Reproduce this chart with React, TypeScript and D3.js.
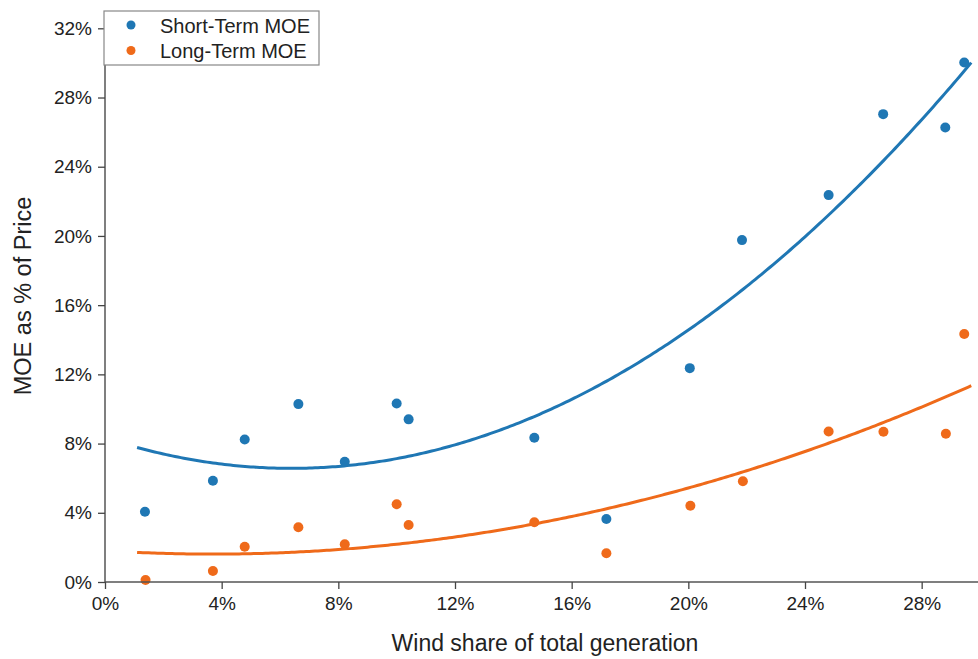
import React, { useEffect, useRef } from 'react';
import * as d3 from 'd3';

// wind share (%) for each market / year
const windShort = [1.37, 3.7, 4.79, 6.63, 8.22, 10.0, 10.41, 14.72, 17.19, 20.05, 21.84, 24.81, 26.68, 28.81, 29.46];
const moeShort = [4.06, 5.85, 8.24, 10.28, 6.95, 10.32, 9.4, 8.34, 3.64, 12.36, 19.76, 22.36, 27.04, 26.27, 30.02];

const windLong = [1.39, 3.7, 4.79, 6.63, 8.22, 10.0, 10.41, 14.72, 17.19, 20.07, 21.87, 24.81, 26.69, 28.83, 29.46];
const moeLong = [0.12, 0.64, 2.04, 3.16, 2.18, 4.49, 3.29, 3.45, 1.66, 4.41, 5.82, 8.7, 8.68, 8.57, 14.33];

const xTicks = [0, 4, 8, 12, 16, 20, 24, 28];
const yTicks = [0, 4, 8, 12, 16, 20, 24, 28, 32];
const seriesNames = ['Short-Term MOE', 'Long-Term MOE'];
const fitRange = [1.1, 29.7];

const BLUE = '#1f77b4';
const ORANGE = '#ef6a1a';

// least squares quadratic y = a + b x + c x^2
function quadFit(xs: number[], ys: number[]) {
  let s0 = 0, s1 = 0, s2 = 0, s3 = 0, s4 = 0, t0 = 0, t1 = 0, t2 = 0;
  xs.forEach((x, i) => {
    const y = ys[i];
    s0 += 1; s1 += x; s2 += x * x; s3 += x * x * x; s4 += x * x * x * x;
    t0 += y; t1 += x * y; t2 += x * x * y;
  });
  const m = [[s0, s1, s2, t0], [s1, s2, s3, t1], [s2, s3, s4, t2]];
  for (let i = 0; i < 3; i++) {
    for (let k = i + 1; k < 3; k++) {
      const f = m[k][i] / m[i][i];
      for (let j = i; j < 4; j++) m[k][j] -= f * m[i][j];
    }
  }
  const c = m[2][3] / m[2][2];
  const b = (m[1][3] - m[1][2] * c) / m[1][1];
  const a = (m[0][3] - m[0][1] * b - m[0][2] * c) / m[0][0];
  return (x: number) => a + b * x + c * x * x;
}

export default function App() {
  const svgRef = useRef<SVGSVGElement>(null);

  useEffect(() => {
    const svg = d3.select(svgRef.current);
    svg.selectAll('*').remove();

    const font = 'Arial, "Liberation Sans", sans-serif';
    const x = d3.scaleLinear().domain([0, 30]).range([105, 980]);
    const y = d3.scaleLinear().domain([0, 33]).range([582, 11]);

    // fit lines
    const line = d3.line<number>().x((d) => x(d[0])).y((d) => y(d[1])).curve(d3.curveLinear);
    const series = [
      { xs: windShort, ys: moeShort, color: BLUE },
      { xs: windLong, ys: moeLong, color: ORANGE },
    ];
    series.forEach((s) => {
      const f = quadFit(s.xs, s.ys);
      const pts = d3.range(fitRange[0], fitRange[1] + 0.001, 0.1).map((v) => [v, f(v)]);
      svg.append('path')
        .attr('d', line(pts as any))
        .attr('fill', 'none')
        .attr('stroke', s.color)
        .attr('stroke-width', 3);
    });

    // points
    series.forEach((s) => {
      svg.append('g').selectAll('circle')
        .data(s.xs)
        .enter()
        .append('circle')
        .attr('cx', (d) => x(d))
        .attr('cy', (d, i) => y(s.ys[i]))
        .attr('r', 5)
        .attr('fill', s.color);
    });

    // x axis
    const minorX = d3.range(2, 30, 4);
    const xAxis = svg.append('g').attr('transform', 'translate(0,582)');
    xAxis.call(d3.axisBottom(x).tickValues(minorX).tickSize(4).tickFormat(() => ''));
    xAxis.call(
      d3.axisBottom(x).tickValues(xTicks).tickSize(7).tickPadding(8)
        .tickFormat((d) => `${d}%`) as any
    );
    xAxis.selectAll('.domain').attr('stroke', '#555').attr('stroke-width', 1.5).attr('d', `M105,0H978`);
    xAxis.selectAll('line').attr('stroke', '#444').attr('stroke-width', 1.3);
    xAxis.selectAll('text').attr('font-family', font).attr('font-size', 19).attr('fill', '#222');

    // y axis
    const minorY = d3.range(2, 33, 4);
    const yAxis = svg.append('g').attr('transform', 'translate(105,0)');
    yAxis.call(d3.axisLeft(y).tickValues(minorY).tickSize(4).tickFormat(() => ''));
    yAxis.call(
      d3.axisLeft(y).tickValues(yTicks).tickSize(7).tickPadding(6)
        .tickFormat((d) => `${d}%`) as any
    );
    yAxis.selectAll('.domain').attr('stroke', '#555').attr('stroke-width', 1.5).attr('d', 'M0,582V11');
    yAxis.selectAll('line').attr('stroke', '#444').attr('stroke-width', 1.3);
    yAxis.selectAll('text').attr('font-family', font).attr('font-size', 19).attr('fill', '#222');

    // axis titles
    svg.append('text')
      .attr('x', 545)
      .attr('y', 651)
      .attr('text-anchor', 'middle')
      .attr('font-family', font)
      .attr('font-size', 23)
      .attr('fill', '#222')
      .text('Wind share of total generation');
    svg.append('text')
      .attr('transform', 'translate(31,296) rotate(-90)')
      .attr('text-anchor', 'middle')
      .attr('font-family', font)
      .attr('font-size', 23.5)
      .attr('fill', '#222')
      .text('MOE as % of Price');

    // legend
    const legend = svg.append('g');
    legend.append('rect')
      .attr('x', 104).attr('y', 11).attr('width', 215).attr('height', 54)
      .attr('fill', 'white').attr('stroke', '#888').attr('stroke-width', 1.2);
    seriesNames.forEach((name, i) => {
      legend.append('circle')
        .attr('cx', 131).attr('cy', 25 + i * 25.5).attr('r', 4.5)
        .attr('fill', i === 0 ? BLUE : ORANGE);
      legend.append('text')
        .attr('x', 160).attr('y', 32.5 + i * 25)
        .attr('font-family', font).attr('font-size', 20).attr('fill', '#222')
        .text(name);
    });
  }, []);

  return (
    <svg
      ref={svgRef}
      width={978}
      height={659}
      style={{ position: 'absolute', left: 0, top: 0, background: 'white' }}
    />
  );
}
